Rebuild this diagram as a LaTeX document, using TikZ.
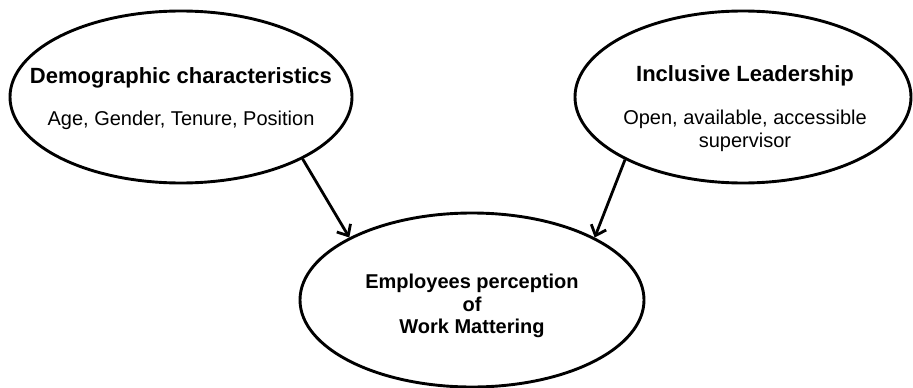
\documentclass[tikz,border=0pt]{standalone}
\usepackage{fontspec}
\setmainfont{Liberation Sans}
\usetikzlibrary{shapes.geometric,arrows.meta}
\begin{document}
\begin{tikzpicture}[x=1pt,y=-1pt,
  oval/.style={ellipse,draw=black,line width=2.9pt,inner sep=0pt},
  headtext/.style={font=\fontsize{22}{26}\selectfont\bfseries,inner sep=0pt},
  bodytext/.style={font=\fontsize{20}{23}\selectfont,align=center,inner sep=0pt},
  midtext/.style={font=\fontsize{20}{22.5}\selectfont\bfseries,align=center,inner sep=0pt},
  link/.style={line width=2.8pt,-{Straight Barb[length=9pt,width=16pt,line width=2.8pt]}}]
\useasboundingbox (0,0) rectangle (913,388);

% the three factors
\node[oval,minimum width=342pt,minimum height=172pt] (dem) at (181,97) {};
\node[oval,minimum width=336pt,minimum height=172pt] (inc) at (743,97) {};
\node[oval,minimum width=344pt,minimum height=174pt] (emp) at (472,300) {};

% labels
\node[headtext] (demT) at (181,78) {Demographic characteristics};
\node[bodytext] (demB) at (181,120) {Age, Gender, Tenure, Position};
\node[headtext] (incT) at (745,76) {Inclusive Leadership};
\node[bodytext] (incB) at (745,131) {Open, available, accessible\\supervisor};
\node[midtext] (empT) at (472,306) {Employees perception\\of\\Work Mattering};

% influences
\draw[link] (dem.-27) -- (emp.153);
\draw[link] (inc.-152) -- (emp.27);
\end{tikzpicture}
\end{document}
